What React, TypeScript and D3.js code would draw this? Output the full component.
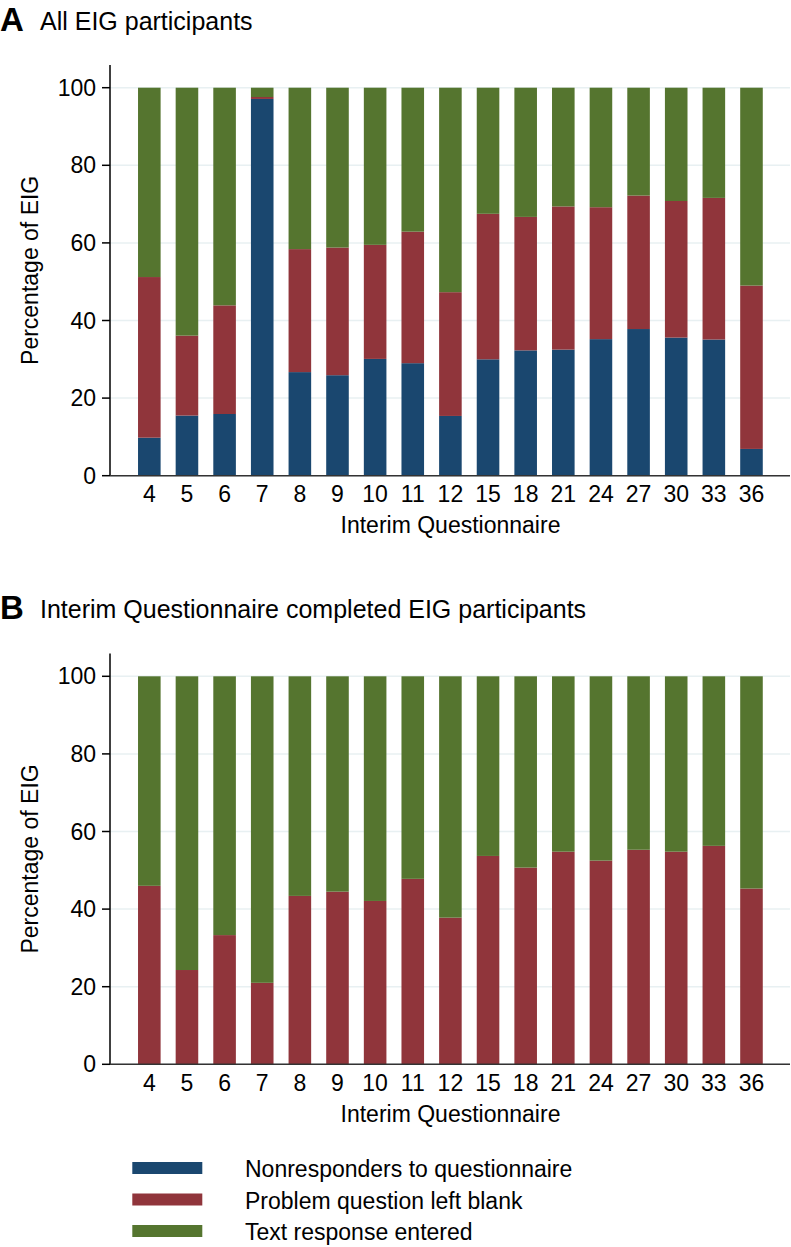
import React from 'react';
import * as d3 from 'd3';

// Interim questionnaire months
const questionnaires = ['4', '5', '6', '7', '8', '9', '10', '11', '12', '15', '18', '21', '24', '27', '30', '33', '36'];

// Panel A: all EIG participants (percent)
const nonrespondersA = [9.8, 15.5, 15.9, 97.1, 26.7, 25.9, 30.1, 29.0, 15.4, 30.0, 32.3, 32.5, 35.2, 37.8, 35.6, 35.1, 6.9];
const blankA = [41.4, 20.6, 28.0, 0.5, 31.7, 32.9, 29.4, 33.9, 31.9, 37.5, 34.4, 36.9, 34.0, 34.4, 35.2, 36.5, 42.1];
const textA = [48.8, 63.9, 56.1, 2.4, 41.6, 41.2, 40.5, 37.1, 52.7, 32.5, 33.3, 30.6, 30.8, 27.8, 29.2, 28.4, 51.0];

// Panel B: participants who completed the interim questionnaire (percent)
const nonrespondersB = [0, 0, 0, 0, 0, 0, 0, 0, 0, 0, 0, 0, 0, 0, 0, 0, 0];
const blankB = [46.0, 24.3, 33.3, 21.0, 43.4, 44.5, 42.1, 47.8, 37.8, 53.7, 50.7, 54.8, 52.5, 55.3, 54.8, 56.3, 45.3];
const textB = [54.0, 75.7, 66.7, 79.0, 56.6, 55.5, 57.9, 52.2, 62.2, 46.3, 49.3, 45.2, 47.5, 44.7, 45.2, 43.7, 54.7];

const yTicks = [0, 20, 40, 60, 80, 100];

const seriesKeys = ['nonresp', 'blank', 'text'];
const seriesLabels = ['Nonresponders to questionnaire', 'Problem question left blank', 'Text response entered'];
const seriesColors = ['#1a476f', '#90353b', '#55752f'];

const FONT = '"Liberation Sans", Arial, Helvetica, sans-serif';
const W = 791;
const H = 1247;

const x = d3.scaleBand<string>()
  .domain(questionnaires)
  .range([130.5, 770.3])
  .paddingInner(0.4)
  .paddingOuter(0.2);

const y = d3.scaleLinear().domain([0, 100]).range([475.7, 87.7]);

const axisX = 110;
const axisRight = 790;

interface PanelProps {
  top: number;
  letter: string;
  title: string;
  nonresp: number[];
  blank: number[];
  text: number[];
}

const Panel: React.FC<PanelProps> = ({ top, letter, title, nonresp, blank, text }) => {
  const rows = questionnaires.map((q, i) => ({ q, nonresp: nonresp[i], blank: blank[i], text: text[i] }));
  const stacked = d3.stack<any>().keys(seriesKeys)(rows);

  return (
    <g transform={`translate(0,${top})`}>
      <text x={0} y={30.5} fontFamily={FONT} fontWeight="bold" fontSize={33} fill="#000">{letter}</text>
      <text x={40} y={29.5} fontFamily={FONT} fontSize={25} fill="#000">{title}</text>

      {/* grid */}
      {yTicks.map(t => (
        <line key={`g${t}`} x1={axisX} x2={axisRight} y1={y(t)} y2={y(t)} stroke="#e8f0f2" strokeWidth={1.5} />
      ))}

      {/* bars */}
      {stacked.map((s, si) => (
        <g key={s.key} fill={seriesColors[si]}>
          {s.map((d: any) => (
            d[1] - d[0] > 0 ? (
              <rect
                key={d.data.q}
                x={x(d.data.q)}
                y={y(d[1])}
                width={x.bandwidth()}
                height={y(d[0]) - y(d[1])}
              />
            ) : null
          ))}
        </g>
      ))}

      {/* y axis */}
      <line x1={axisX} x2={axisX} y1={65} y2={y(0)} stroke="#000" strokeWidth={1.5} />
      {yTicks.map(t => (
        <g key={`t${t}`}>
          <line x1={axisX - 8} x2={axisX} y1={y(t)} y2={y(t)} stroke="#000" strokeWidth={1.5} />
          <text x={96} y={y(t)} dy="0.35em" textAnchor="end" fontFamily={FONT} fontSize={23} fill="#000">{t}</text>
        </g>
      ))}
      <text
        transform={`translate(37.5,${(65 + y(0)) / 2}) rotate(-90)`}
        textAnchor="middle"
        fontFamily={FONT}
        fontSize={23}
        fill="#000"
      >Percentage of EIG</text>

      {/* x axis */}
      <line x1={axisX} x2={axisRight} y1={y(0)} y2={y(0)} stroke="#333" strokeWidth={1.5} />
      {questionnaires.map(q => (
        <text key={q} x={(x(q) || 0) + x.bandwidth() / 2} y={502} textAnchor="middle" fontFamily={FONT} fontSize={23} fill="#000">{q}</text>
      ))}
      <text x={450.5} y={533} textAnchor="middle" fontFamily={FONT} fontSize={23} fill="#000">Interim Questionnaire</text>
    </g>
  );
};

const App: React.FC = () => {
  return (
    <svg width={W} height={H} style={{ position: 'absolute', left: 0, top: 0, background: '#fff' }}>
      <rect width={W} height={H} fill="#fff" />
      <Panel top={0} letter="A" title="All EIG participants" nonresp={nonrespondersA} blank={blankA} text={textA} />
      <Panel top={588.6} letter="B" title="Interim Questionnaire completed EIG participants" nonresp={nonrespondersB} blank={blankB} text={textB} />

      {/* legend */}
      {seriesLabels.map((label, i) => (
        <g key={label} transform={`translate(0,${1168 + i * 31.5})`}>
          <rect x={132.3} y={-6} width={70} height={12} fill={seriesColors[i]} />
          <text x={245} y={9} fontFamily={FONT} fontSize={23} fill="#000">{label}</text>
        </g>
      ))}
    </svg>
  );
};

export default App;
